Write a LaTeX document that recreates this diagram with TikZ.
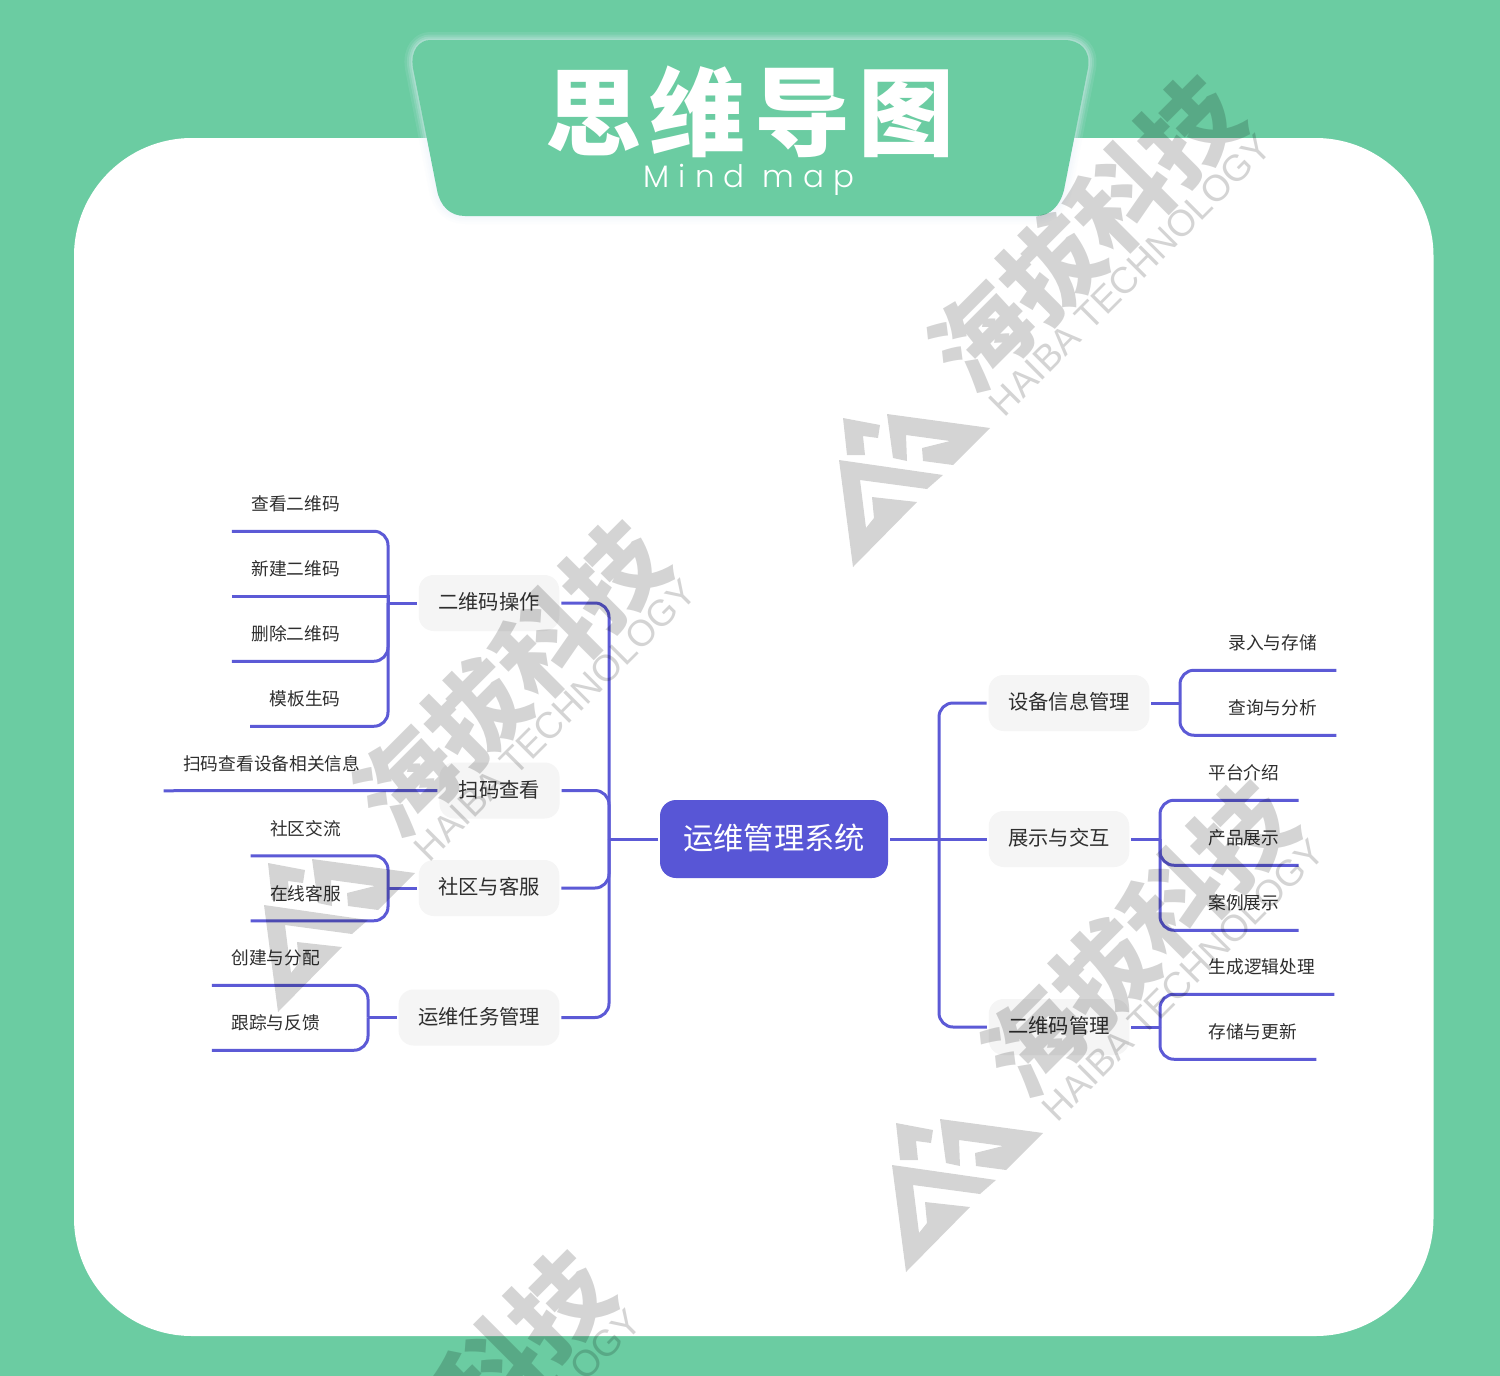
\documentclass[tikz,border=0pt]{standalone}
\usepackage{fontspec}
\setmainfont{Noto Sans CJK SC}
\newfontfamily\latinlight[LetterSpace=30]{Poppins Light}
\newfontfamily\marklatin{Liberation Sans}
\definecolor{bggreen}{HTML}{6BCCA2}
\definecolor{linkblue}{HTML}{5C5AD6}
\definecolor{rootblue}{HTML}{5856D6}
\definecolor{boxgray}{HTML}{F5F5F5}
\definecolor{inkgray}{HTML}{2E2E2E}
\definecolor{glowblue}{HTML}{EAF2FC}
\tikzset{
  root/.style={fill=rootblue,text=white,rounded corners=16pt,minimum width=228pt,minimum height=78pt,outer sep=2pt,text height=26pt,text depth=6pt,font=\fontsize{30.3}{32}\selectfont},
  topic/.style={fill=boxgray,text=inkgray,rounded corners=15pt,minimum height=56pt,inner xsep=19.5pt,outer sep=2pt,text height=17pt,text depth=3.5pt,font=\fontsize{20.3}{22}\selectfont},
  leaf/.style={text=inkgray,minimum height=54.5pt,inner xsep=19.5pt,outer sep=0pt,font=\fontsize{17.7}{19}\selectfont},
  link/.style={draw=linkblue,line width=3pt,rounded corners=14pt}
}
\newcommand{\tabpath}{(430,40) -- (1064,40) .. controls (1080,40) and (1091,50) .. (1088,68) -- (1064,190) .. controls (1060,206) and (1050,216) .. (1036,216) -- (465,216) .. controls (450,216) and (440,206) .. (437,190) -- (413,68) .. controls (410,50) and (420,40) .. (430,40) -- cycle}
\newcommand{\haibamark}[3]{
\begin{scope}[shift={(#2,#3)},black,opacity=0.17]
\fill (843,418) -- (880,425) -- (878,438) -- (863,436) -- (865,455) -- (847,455) -- cycle;
\fill (887,414) -- (990,428) -- (953,465) -- (923,461) -- (922,448) -- (950,441) -- (906,435) -- (907,461) -- (893,458) -- cycle;
\fill (839,460) -- (943,475) -- (927,489) -- (860,480) -- (866,528) -- (874,518) -- (872,497) -- (917,502) -- (853,567) -- cycle;
\node[rotate=45,font=\fontsize{98}{98}\selectfont\bfseries] (#1name) at (1086,233) {海拔科技};
\node[rotate=45,font=\fontsize{37}{37}\marklatin] (#1latin) at (1130,275) {HAIBA TECHNOLOGY};
\end{scope}
}
\begin{document}
\begin{tikzpicture}[x=1pt,y=-1pt]
\useasboundingbox (0,0) rectangle (1500,1376);
\clip (0,0) rectangle (1500,1376);
\fill[bggreen] (0,0) rectangle (1500,1376);
\fill[white,rounded corners=118pt] (74,138) rectangle (1433.5,1336);
\draw[glowblue,opacity=0.10,line width=16pt,line join=round] \tabpath;
\draw[glowblue,opacity=0.14,line width=11pt,line join=round] \tabpath;
\draw[glowblue,opacity=0.18,line width=7pt,line join=round] \tabpath;
\draw[glowblue,opacity=0.22,line width=3pt,line join=round] \tabpath;
\fill[bggreen] \tabpath;
\node[text=white,font=\fontsize{96}{96}\selectfont\bfseries\addfontfeatures{LetterSpace=9}] (title) at (750,112) {思维导图};
\node[text=white,font=\fontsize{31}{31}\latinlight] (subtitle) at (749,180) {Mind map};

\node[root] (centre) at (774,839) {运维管理系统};

\node[topic] (qrop) at (489,603) {二维码操作};
\node[topic] (scan) at (499.5,790.5) {扫码查看};
\node[topic] (community) at (489,888) {社区与客服};
\node[topic] (task) at (479,1017.5) {运维任务管理};
\node[topic] (device) at (1069,703) {设备信息管理};
\node[topic] (display) at (1059,839) {展示与交互};
\node[topic] (qrman) at (1059,1027) {二维码管理};

\node[leaf] (view) at (295.7,504) {查看二维码};
\node[leaf] (create) at (295.7,569) {新建二维码};
\node[leaf] (remove) at (295.7,634) {删除二维码};
\node[leaf] (template) at (305,699) {模板生码};
\node[leaf] (scaninfo) at (271.7,763.5) {扫码查看设备相关信息};
\node[leaf] (forum) at (305.5,828.5) {社区交流};
\node[leaf] (service) at (305.5,893.5) {在线客服};
\node[leaf] (assign) at (275.7,958) {创建与分配};
\node[leaf] (track) at (275.7,1023) {跟踪与反馈};
\node[leaf] (input) at (1272.7,643) {录入与存储};
\node[leaf] (query) at (1272.7,708) {查询与分析};
\node[leaf] (intro) at (1243.7,773) {平台介绍};
\node[leaf] (product) at (1243.7,838) {产品展示};
\node[leaf] (cases) at (1243.7,903) {案例展示};
\node[leaf] (logic) at (1261.7,967) {生成逻辑处理};
\node[leaf] (store) at (1252.7,1032) {存储与更新};

\coordinate (leftjoin) at (609,839);
\coordinate (rightjoin) at (939,839);
\coordinate (qropjoin) at (388,603);
\coordinate (communityjoin) at (388,888);
\coordinate (taskjoin) at (368,1017.5);
\coordinate (devicejoin) at (1180,703);
\coordinate (displayjoin) at (1160,839);
\coordinate (qrmanjoin) at (1160,1027);

\draw[link] (centre.west) -- (leftjoin);
\draw[link] (qrop.east) -| (leftjoin);
\draw[link] (scan.east) -| (leftjoin);
\draw[link] (community.east) -| (leftjoin);
\draw[link] (task.east) -| (leftjoin);
\draw[link] (centre.east) -- (display.west);
\draw[link] (device.west) -| (rightjoin);
\draw[link] (qrman.west) -| (rightjoin);

\draw[link] (qrop.west) -- (qropjoin);
\draw[link] (view.south west) -| (qropjoin);
\draw[link,sharp corners] (create.south west) -| (qropjoin);
\draw[link] (remove.south west) -| (qropjoin);
\draw[link] (template.south west) -| (qropjoin);
\draw[link] (scaninfo.south west) -- (scan.west);
\draw[link] (community.west) -- (communityjoin);
\draw[link] (forum.south west) -| (communityjoin);
\draw[link] (service.south west) -| (communityjoin);
\draw[link] (task.west) -- (taskjoin);
\draw[link] (assign.south west) -| (taskjoin);
\draw[link] (track.south west) -| (taskjoin);

\draw[link] (device.east) -- (devicejoin);
\draw[link] (input.south east) -| (devicejoin);
\draw[link] (query.south east) -| (devicejoin);
\draw[link] (display.east) -- (displayjoin);
\draw[link] (intro.south east) -| (displayjoin);
\draw[link] (product.south east) -| (displayjoin);
\draw[link] (cases.south east) -| (displayjoin);
\draw[link] (qrman.east) -- (qrmanjoin);
\draw[link] (logic.south east) -| (qrmanjoin);
\draw[link] (store.south east) -| (qrmanjoin);

\haibamark{marka}{0}{0}
\haibamark{markb}{-575}{445}
\haibamark{markc}{53}{705}
\haibamark{markd}{-630}{1175}
\end{tikzpicture}
\end{document}
